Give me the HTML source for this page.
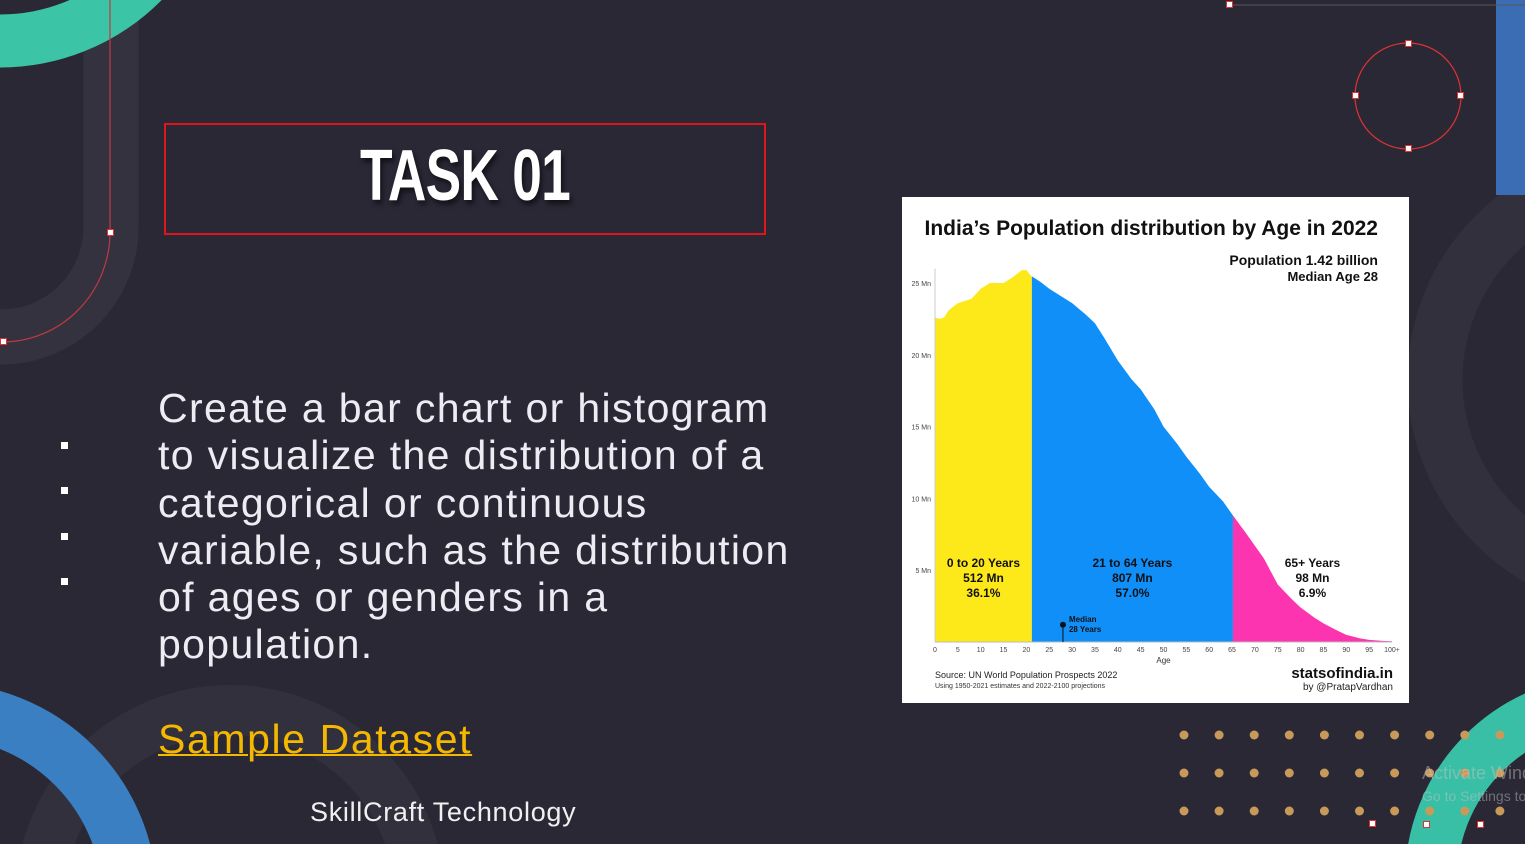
<!DOCTYPE html>
<html style="overflow:hidden"><head><meta charset="utf-8">
<style>
*{margin:0;padding:0;box-sizing:border-box}
html,body{width:1525px;height:844px;overflow:hidden}
body{background:#2b2836;font-family:"Liberation Sans",sans-serif;position:relative}
.abs{position:absolute}
.sq{position:absolute;width:7px;height:7px;background:#fff;border:1px solid #d33}
</style></head><body>
<svg class="abs" style="left:0;top:0" width="1525" height="844">
  <rect x="-300" y="-100" width="411" height="437" rx="110" fill="none" stroke="rgba(255,255,255,0.05)" stroke-width="55"/>
  <circle cx="1640" cy="380" r="205" fill="none" stroke="rgba(255,255,255,0.04)" stroke-width="55"/>
  <circle cx="230" cy="900" r="190" fill="none" stroke="rgba(255,255,255,0.04)" stroke-width="50"/>
  <circle cx="0" cy="-160" r="201" fill="none" stroke="#3cc4a6" stroke-width="53"/>
  <circle cx="1610" cy="880" r="179" fill="none" stroke="#38bfa5" stroke-width="52"/>
  <circle cx="-60" cy="900" r="190" fill="none" stroke="#3a7fc2" stroke-width="55"/>
  <rect x="1496" y="0" width="30" height="195" fill="#3a6db3"/>
  <path d="M110 0 V232 A108 110 0 0 1 3 342" fill="none" stroke="#c0393f" stroke-width="1.2"/>
  <line x1="1230" y1="5" x2="1525" y2="5" stroke="#555" stroke-width="1"/>
  <circle cx="1408" cy="96" r="53" fill="none" stroke="#d33" stroke-width="1.2"/>
  <g fill="#c89a5a" id="dots"></g>
</svg>
<div class="sq" style="left:107px;top:229px"></div>
<div class="sq" style="left:0px;top:338px"></div>
<div class="sq" style="left:1226px;top:1px"></div>
<div class="sq" style="left:1405px;top:40px"></div>
<div class="sq" style="left:1352px;top:92px"></div>
<div class="sq" style="left:1457px;top:92px"></div>
<div class="sq" style="left:1405px;top:145px"></div>
<div class="sq" style="left:1369px;top:820px"></div>
<div class="sq" style="left:1423px;top:821px"></div>
<div class="sq" style="left:1477px;top:821px"></div>
<div class="sq" style="left:61px;top:442px;border:none"></div>
<div class="sq" style="left:61px;top:487px;border:none"></div>
<div class="sq" style="left:61px;top:533px;border:none"></div>
<div class="sq" style="left:61px;top:578px;border:none"></div>

<div class="abs" style="left:164px;top:123px;width:602px;height:112px;border:2px solid #e0141c"></div>
<div class="abs" style="left:164px;top:134px;width:602px;text-align:center;color:#fff;font-weight:bold;font-size:72px;line-height:84px;transform:scaleX(0.74);letter-spacing:-1px;text-shadow:3px 4px 6px rgba(0,0,0,0.6)">TASK 01</div>

<div class="abs" style="left:158px;top:385px;width:700px;color:#ececf2;font-size:41px;line-height:47.3px;letter-spacing:1.35px">Create a bar chart or histogram<br>to visualize the distribution of a<br>categorical or continuous<br>variable, such as the distribution<br>of ages or genders in a<br>population.</div>
<div class="abs" style="left:158px;top:716px;color:#f5b800;font-size:41px;letter-spacing:1.6px;text-decoration:underline;text-decoration-thickness:2px">Sample Dataset</div>
<div class="abs" style="left:310px;top:797px;color:#f0f0f0;font-size:27px;letter-spacing:0.7px">SkillCraft Technology</div>
<div class="abs" style="left:1422px;top:762px;width:103px;height:50px;overflow:hidden;color:rgba(200,200,200,0.45);font-size:18px;white-space:nowrap;line-height:22px">Activate Windows<br><span style="font-size:14px">Go to Settings to</span></div>

<svg class="abs" style="left:902px;top:197px" width="507" height="506" id="chart">
  <rect width="507" height="506" fill="#fff"/>
  <text x="476" y="38" text-anchor="end" font-size="21" font-weight="bold" fill="#111">India’s Population distribution by Age in 2022</text>
  <text x="476" y="68" text-anchor="end" font-size="14" font-weight="bold" fill="#111">Population 1.42 billion</text>
  <text x="476" y="84" text-anchor="end" font-size="13" font-weight="bold" fill="#111">Median Age 28</text>
  <g id="plot" transform="translate(-902,-197)"></g>
  <text x="33" y="481" font-size="9" fill="#222">Source: UN World Population Prospects 2022</text>
  <text x="33" y="491" font-size="7" fill="#333">Using 1950-2021 estimates and 2022-2100 projections</text>
  <text x="491" y="481" text-anchor="end" font-size="15" font-weight="bold" fill="#111">statsofindia.in</text>
  <text x="491" y="493" text-anchor="end" font-size="10" fill="#222">by @PratapVardhan</text>
</svg>
<script>
const ages=[0,1,2,3,5,7,8,10,12,15,17,19,20,21,23,25,28,30,33,35,37,40,43,45,48,50,53,55,58,60,63,65,68,70,72,75,78,80,83,85,88,90,93,95,98,100];
const pops=[22.6,22.5,22.6,23.1,23.6,23.8,23.9,24.6,25.0,25.0,25.4,25.9,25.9,25.5,25.1,24.6,24.0,23.6,22.8,22.2,21.2,19.6,18.3,17.6,16.2,15.0,13.8,12.9,11.7,10.8,9.8,8.9,7.6,6.7,5.8,4.0,3.0,2.4,1.7,1.3,0.8,0.5,0.25,0.15,0.08,0.05];
const bandEdges=[0,21.2,65.2,100];
const bandColors=["#fde81a","#118ff9","#fc34b0"];
const bandLabels=[["0 to 20 Years","512 Mn","36.1%"],["21 to 64 Years","807 Mn","57.0%"],["65+ Years","98 Mn","6.9%"]];
const yTicks=[5,10,15,20,25];
const xTicks=[0,5,10,15,20,25,30,35,40,45,50,55,60,65,70,75,80,85,90,95,100];
const medianAge=28;
const X=a=>935+a*4.57, Y=v=>642-v*14.36;
const NS="http://www.w3.org/2000/svg";
const g=document.getElementById('plot');
function mk(t,at,p){const e=document.createElementNS(NS,t);for(const k in at)e.setAttribute(k,at[k]);(p||g).appendChild(e);return e;}
let d="M"+X(0)+","+Y(0);ages.forEach((a,i)=>d+=" L"+X(a)+","+Y(pops[i]));d+=" L"+X(100)+","+Y(0)+"Z";
const defs=mk('defs',{});
bandColors.forEach((c,i)=>{
  const cp=mk('clipPath',{id:'cb'+i},defs);
  mk('rect',{x:X(bandEdges[i]),y:0,width:X(bandEdges[i+1])-X(bandEdges[i]),height:900},cp);
  const p=mk('path',{d:d,fill:c,'clip-path':'url(#cb'+i+')'});
  
  
  const cx=(X(bandEdges[i])+X(bandEdges[i+1]))/2;
  bandLabels[i].forEach((s,j)=>{const t=mk('text',{x:cx,y:567+j*15,'text-anchor':'middle','font-size':12,'font-weight':'bold',fill:'#111'});t.textContent=s;
    
    });
});
mk('line',{x1:X(0),y1:Y(0),x2:X(100),y2:Y(0),stroke:'#bbb','stroke-width':1});
mk('line',{x1:X(0),y1:Y(0),x2:X(0),y2:Y(26),stroke:'#ccc','stroke-width':1});
yTicks.forEach(v=>{const t=mk('text',{x:X(0)-4,y:Y(v)+3,'text-anchor':'end','font-size':7,fill:'#444'});t.textContent=v+" Mn";
  
  });
xTicks.forEach(v=>{const t=mk('text',{x:X(v),y:Y(0)+10,'text-anchor':'middle','font-size':7,fill:'#444'});t.textContent=v==100?"100+":v;
  
  });
const at=mk('text',{x:X(50),y:Y(0)+21,'text-anchor':'middle','font-size':8,fill:'#333'});at.textContent="Age";


mk('line',{x1:X(medianAge),y1:Y(0),x2:X(medianAge),y2:Y(1.2),stroke:'#111','stroke-width':1});
const mc=mk('circle',{cx:X(medianAge),cy:Y(1.2),r:3,fill:'#111'});


[["Median",622],["28 Years",632]].forEach(s=>{const t=mk('text',{x:X(medianAge)+6,y:s[1],'font-size':8,'font-weight':'bold',fill:'#111'});t.textContent=s[0];});
const dots=document.getElementById('dots');
[735,773,811].forEach(y=>{for(let i=0;i<10;i++){const c=document.createElementNS(NS,'circle');c.setAttribute('cx',1184+i*35.1);c.setAttribute('cy',y);c.setAttribute('r',4.5);dots.appendChild(c);}});
</script>
</body></html>
